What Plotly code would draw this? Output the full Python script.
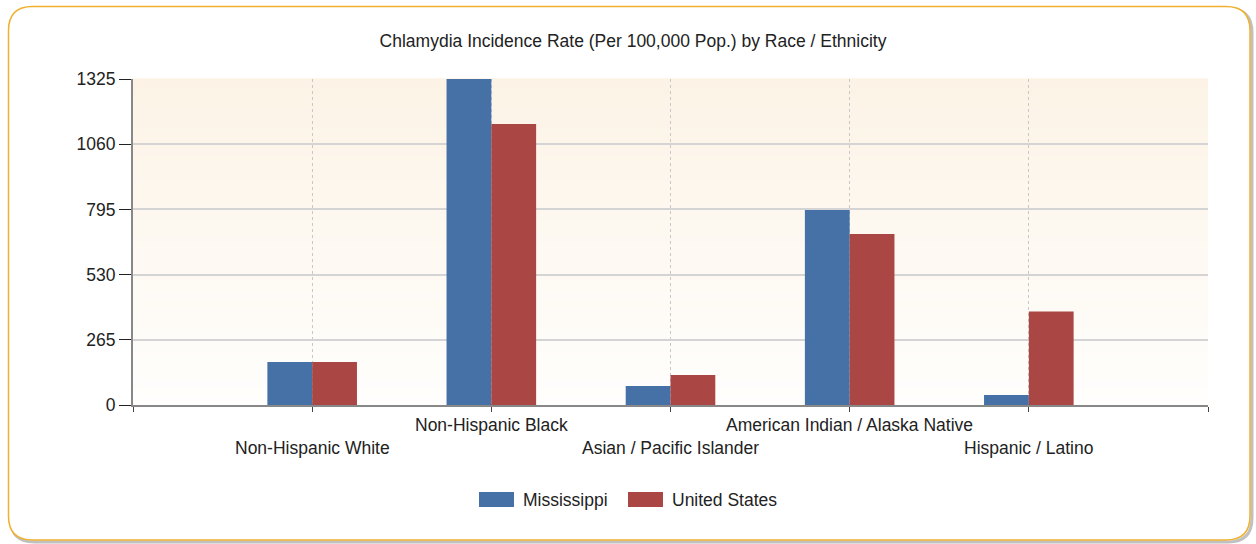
import plotly.graph_objects as go

categories = ["Non-Hispanic White", "Non-Hispanic Black", "Asian / Pacific Islander",
              "American Indian / Alaska Native", "Hispanic / Latino"]
series_names = ["Mississippi", "United States"]
mississippi = [175, 1450, 77, 793, 41]
united_states = [175, 1142, 122, 695, 380]
y_ticks = [0, 265, 530, 795, 1060, 1325]
colors = ["#4571A7", "#AA4643"]

W, H = 1256, 544
L, R, T, B = 133, 1256 - 1208, 79, 544 - 405
PW, PH = W - L - R, H - T - B

def px(x):
    return (x - L) / PW

def py(y):
    return (H - B - y) / PH

xpos = [i + 1 for i in range(len(categories))]
FONT = "Liberation Sans"

fig = go.Figure()
for name, vals, col in zip(series_names, [mississippi, united_states], colors):
    fig.add_trace(go.Bar(x=xpos, y=vals, name=name, marker=dict(color=col, line=dict(width=0))))

shapes = []

def rrect(x0, y0, x1, y1, r):
    X0, X1 = px(x0), px(x1)
    YT, YB = py(y0), py(y1)
    rx, ry = r / PW, r / PH
    return (f"M {X0+rx},{YT} L {X1-rx},{YT} Q {X1},{YT} {X1},{YT-ry} "
            f"L {X1},{YB+ry} Q {X1},{YB} {X1-rx},{YB} L {X0+rx},{YB} "
            f"Q {X0},{YB} {X0},{YB+ry} L {X0},{YT-ry} Q {X0},{YT} {X0+rx},{YT} Z")

shapes.append(dict(type="path", xref="paper", yref="paper", path=rrect(10.5, 8.5, 1252, 542, 24),
                   line=dict(color="rgba(140,140,140,0.55)", width=3), fillcolor="rgba(0,0,0,0)", layer="below"))
shapes.append(dict(type="path", xref="paper", yref="paper", path=rrect(8.5, 6.5, 1250, 540, 24),
                   line=dict(color="#F0B030", width=1.5), fillcolor="white", layer="below"))

n = 60
top = (252, 243, 230)
bot = (255, 254, 252)
for i in range(n):
    t = i / (n - 1)
    c = tuple(round(bot[k] + (top[k] - bot[k]) * t) for k in range(3))
    shapes.append(dict(type="rect", xref="paper", yref="paper", x0=0, x1=1,
                       y0=i / n, y1=(i + 1) / n + 0.002, line=dict(width=0),
                       fillcolor=f"rgb{c}", layer="below"))

annotations = []
for i, (xp, cat) in enumerate(zip(xpos, categories)):
    yy = py(448) if i % 2 == 0 else py(425)
    annotations.append(dict(x=xp, y=yy, xref="x", yref="paper", text=cat, showarrow=False,
                            xanchor="center", yanchor="middle",
                            font=dict(size=17.5, color="#222", family=FONT)))

# custom legend with rectangular swatches
legend_x = [479, 628]
for lx, name, col in zip(legend_x, series_names, colors):
    shapes.append(dict(type="rect", xref="paper", yref="paper", x0=px(lx), x1=px(lx + 35),
                       y0=py(507), y1=py(492), fillcolor=col, line=dict(width=0)))
    annotations.append(dict(x=px(lx + 42), y=py(500), xref="paper", yref="paper", text=name,
                            showarrow=False, xanchor="left", yanchor="middle",
                            font=dict(size=17.5, color="#222", family=FONT)))

fig.update_layout(
    width=W, height=H,
    margin=dict(l=L, r=R, t=T, b=B),
    paper_bgcolor="white", plot_bgcolor="rgba(0,0,0,0)",
    title=dict(text="Chlamydia Incidence Rate (Per 100,000 Pop.) by Race / Ethnicity",
               x=633 / W, y=1 - 41 / H, xanchor="center", yanchor="middle",
               font=dict(size=17.5, color="#222", family=FONT)),
    barmode="group", bargap=0.5, bargroupgap=0,
    shapes=shapes, annotations=annotations,
    showlegend=False,
    xaxis=dict(range=[0, len(categories) + 1], tickvals=list(range(len(categories) + 2)),
               showticklabels=False, ticks="outside", ticklen=5, tickcolor="#444",
               showgrid=True, gridcolor="#C8C8C8", griddash="dot", gridwidth=1,
               showline=True, linecolor="#888", linewidth=2, zeroline=False, fixedrange=True),
    yaxis=dict(range=[0, 1325], tickvals=y_ticks, ticks="outside", ticklen=12, tickcolor="#222",
               tickfont=dict(size=17.5, color="#222", family=FONT),
               showgrid=True, gridcolor="#D4D4D4", gridwidth=1.5,
               showline=True, linecolor="#888", linewidth=2, zeroline=False),
)

fig.write_html("out.html", config={"displayModeBar": False},
               post_script="document.body.style.margin='0';document.body.style.overflow='hidden';")
